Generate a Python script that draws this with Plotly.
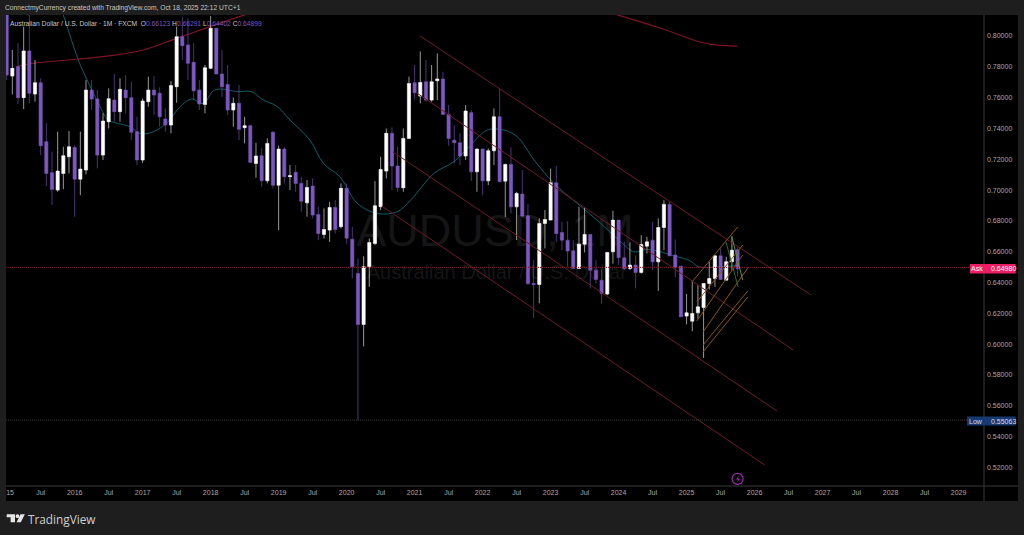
import plotly.graph_objects as go

# Monthly candles, Jan 2015 .. Oct 2025 (index 0 = Jan 2015)
open_p = [.8170,.7740,.7801,.7600,.7903,.7623,.7697,.7314,.7113,.7000,.7108,.7216,
 .7277,.7071,.7130,.7649,.7591,.7227,.7444,.7584,.7509,.7649,.7600,.7379,
 .7195,.7574,.7649,.7628,.7461,.7422,.7671,.7996,.7942,.7829,.7649,.7556,
 .7790,.8050,.7753,.7686,.7520,.7563,.7405,.7418,.7173,.7223,.7061,.7375,
 .7032,.7266,.7087,.7115,.7043,.6917,.7026,.6842,.6712,.6740,.6887,.6762,
 .7011,.6680,.6459,.6127,.6502,.6653,.6892,.7123,.7368,.7156,.7015,.7335,
 .7697,.7610,.7703,.7584,.7710,.7721,.7491,.7324,.7307,.7221,.7502,.7119,
 .7266,.7060,.7255,.7476,.7058,.7166,.6891,.6974,.6833,.6393,.6387,.6783,
 .6805,.7047,.6725,.6675,.6606,.6491,.6649,.6712,.6480,.6415,.6325,.6599,
 .6805,.6560,.6491,.6513,.6465,.6636,.6675,.6534,.6757,.6907,.6578,.6506,
 .6182,.6149,.6203,.6238,.6394,.6426,.6573,.6415,.6535,.66123]
high_p = [.8230,.7909,.7953,.8061,.8147,.7844,.7725,.7433,.7249,.7379,.7281,.7383,
 .7292,.7379,.7714,.7714,.7649,.7498,.7660,.7753,.7725,.7747,.7703,.7476,
 .7595,.7736,.7740,.7667,.7530,.7708,.8061,.8126,.8115,.7953,.7714,.7812,
 .8130,.8050,.7909,.7812,.7600,.7682,.7476,.7422,.7307,.7271,.7336,.7383,
 .7288,.7281,.7162,.7162,.7087,.7065,.7076,.6892,.6881,.6924,.6935,.7043,
 .7043,.6762,.6556,.6570,.6686,.7058,.7216,.7400,.7407,.7281,.7400,.7736,
 .7812,.7900,.7844,.7812,.7887,.7768,.7552,.7422,.7368,.7552,.7519,.7270,
 .7270,.7270,.7530,.7660,.7173,.7277,.6989,.7130,.6909,.6545,.6816,.6870,
 .7140,.7156,.6794,.6798,.6675,.6891,.6891,.6714,.6545,.6491,.6599,.6866,
 .6805,.6664,.6660,.6577,.6707,.6697,.6794,.6816,.6935,.6924,.6680,.6506,
 .6325,.6411,.6383,.6394,.6535,.6578,.6621,.6567,.6701,.66291]
low_p = [.7715,.7621,.7559,.7526,.7563,.7574,.7227,.7026,.6903,.6989,.7006,.7108,
 .6827,.6967,.7102,.7520,.7141,.7195,.7400,.7444,.7444,.7498,.7325,.7162,
 .7177,.7541,.7487,.7411,.7379,.7368,.7567,.7844,.7714,.7584,.7520,.7498,
 .7785,.7753,.7606,.7487,.7411,.7325,.7303,.7173,.7080,.7022,.7043,.7011,
 .6740,.7043,.7000,.6989,.6859,.6827,.6816,.6675,.6686,.6664,.6718,.6751,
 .6651,.6426,.5506,.5985,.6372,.6642,.6870,.7075,.7000,.6989,.6989,.7335,
 .7589,.7563,.7573,.7573,.7584,.7487,.7288,.7173,.7162,.7195,.7060,.6989,
 .6967,.7032,.7162,.7054,.6826,.6848,.6675,.6826,.6383,.6170,.6264,.6621,
 .6805,.6664,.6610,.6502,.6491,.6491,.6595,.6361,.6393,.6264,.6318,.6523,
 .6513,.6480,.6480,.6361,.6458,.6588,.6480,.6346,.6610,.6573,.6433,.6177,
 .6128,.6084,.6166,.5911,.6355,.6372,.6420,.6415,.6480,.64402]
close_p = [.7747,.7790,.7600,.7903,.7628,.7697,.7288,.7108,.7004,.7123,.7223,.7281,
 .7071,.7136,.7649,.7591,.7227,.7448,.7593,.7509,.7654,.7600,.7375,.7195,
 .7578,.7649,.7617,.7476,.7422,.7678,.7996,.7937,.7823,.7645,.7559,.7794,
 .8050,.7753,.7671,.7520,.7563,.7394,.7418,.7180,.7221,.7061,.7303,.7032,
 .7266,.7087,.7093,.7043,.6928,.7017,.6838,.6718,.6744,.6887,.6744,.7011,
 .6688,.6502,.6127,.6502,.6660,.6898,.7134,.7368,.7156,.7017,.7335,.7692,
 .7632,.7699,.7584,.7703,.7721,.7491,.7335,.7307,.7221,.7513,.7119,.7266,
 .7060,.7255,.7476,.7054,.7166,.6891,.6978,.6831,.6393,.6387,.6783,.6809,
 .7047,.6718,.6675,.6604,.6491,.6649,.6712,.6480,.6420,.6329,.6595,.6805,
 .6562,.6491,.6513,.6465,.6647,.6664,.6534,.6757,.6907,.6573,.6498,.6177,
 .6203,.6199,.6242,.6394,.6426,.6573,.6420,.6535,.6610,.64899]
months = list(range(len(close_p)))

# Moving averages
teal_x = [8,10,12.65,14.2,15.9,17.9,19.1,21.8,23.5,25,27,28.5,30.6,32.6,34.7,36.5,37.9,40.6,43.2,45.3,47.6,50,53.5,55.9,58.8,
 61.9,65.4,68.9,71.3,75.4,78.9,81.6,84.8,87.8,90.1,93.1,96.6,100.7,104.2,108.4,110.7,113.1,118.4,120.6,122.1,125.6,129]
teal_y = [.835,.8137,.7844,.7714,.7584,.7455,.7437,.7411,.7368,.7368,.7400,.7444,.7541,.7591,.7563,.7645,.7656,.7639,.7639,.7584,.7546,.7455,.7325,.7173,.7087,
 .6913,.6848,.6859,.6935,.7108,.7184,.7281,.7389,.7389,.7346,.7195,.7043,.6913,.6805,.6664,.6599,.6614,.6567,.6541,.6502,.6502,.6510]
red_x = [1.8,4.7,12.35,19.4,24.1,30,35.9,42.6,55,70,85,97,107.9,115.3,122.4,125,128.9]
red_y = [.7801,.7823,.7849,.7877,.7909,.7985,.8061,.8143,.825,.832,.832,.825,.8136,.8052,.7961,.7942,.7935]

# Drawn channels and lines: [month0, price0, month1, price1]
channels = [[72.95,.8000,141.95,.6319],[72.4,.7630,138.8,.5962],[68.2,.7247,135.95,.5566],[66.2,.6896,133.8,.5215]]
orange_lines = [[121.1,.6410,129.0,.6760],[121.8,.6273,129.9,.6643],[121.8,.6150,129.9,.6578],
                [122.9,.6078,130.9,.6500],[122.9,.5994,130.8,.6345],[122.9,.5949,130.8,.6306]]
green_lines = [[126.95,.6663,129.1,.6371],[128.0,.6695,129.9,.6416]]
ask_price = 0.64980
low_price = 0.55063

y_ticks = [.52,.54,.56,.58,.60,.62,.64,.66,.68,.70,.72,.74,.76,.78,.80]
y_labels = ["%.5f" % v for v in y_ticks]
x_ticks = [0.6] + [m for y in range(15) for m in (6 + 12*y, 12 + 12*y)][:-1]
x_labels = ["15"] + [s for y in range(15) for s in ("Jul", str(2016 + y))][:-1]

W, H = 1024, 535
L, R, T, B = 6, 984, 15, 486
xr = [-0.118, 172.49]
yr = [0.5079, 0.81364]
px = lambda v: (v - L) / (R - L)
py = lambda v: (B - v) / (B - T)

BG = "#1e1e1e"; PURPLE = "#7e57c2"; CH = "#701a28"; ORANGE = "#8a5510"; GRID = "#3a3a3a"; TICK = "#a8a8a8"

fig = go.Figure()
# --- under the candles
fig.add_trace(go.Scatter(x=[86.2], y=[0.6708], mode="text", text=["AUDUSD, 1M"], hoverinfo="skip",
    textfont=dict(family="Liberation Sans", size=45, color="#151515"), xaxis="x", yaxis="y"))
fig.add_trace(go.Scatter(x=[86.5], y=[0.6455], mode="text", text=["Australian Dollar / U.S. Dollar"], hoverinfo="skip",
    textfont=dict(family="Liberation Sans", size=20, color="#151515"), xaxis="x", yaxis="y"))
fig.add_trace(go.Scatter(x=teal_x, y=teal_y, mode="lines", line=dict(color="#0a5f68", width=1, shape="spline"), xaxis="x", yaxis="y"))
fig.add_trace(go.Scatter(x=red_x, y=red_y, mode="lines", line=dict(color="#7d1426", width=1.2, shape="spline"), xaxis="x", yaxis="y"))
# --- candles
fig.add_trace(go.Candlestick(x=months, open=open_p, high=high_p, low=low_p, close=close_p,
    increasing=dict(line=dict(color="#ffffff", width=0.6), fillcolor="#ffffff"),
    decreasing=dict(line=dict(color=PURPLE, width=0.6), fillcolor=PURPLE),
    whiskerwidth=0, xaxis="x2", yaxis="y2"))
# --- drawings on top
for c in channels:
    fig.add_trace(go.Scatter(x=[c[0],c[2]], y=[c[1],c[3]], mode="lines", line=dict(color=CH, width=1), xaxis="x3", yaxis="y3"))
for c in orange_lines:
    fig.add_trace(go.Scatter(x=[c[0],c[2]], y=[c[1],c[3]], mode="lines", line=dict(color=ORANGE, width=1), xaxis="x3", yaxis="y3"))
for c, col in zip(green_lines, ["#2f6b2f", "#4f8f3f"]):
    fig.add_trace(go.Scatter(x=[c[0],c[2]], y=[c[1],c[3]], mode="lines", line=dict(color=col, width=1), xaxis="x3", yaxis="y3"))
fig.add_trace(go.Scatter(x=xr, y=[ask_price]*2, mode="lines", line=dict(color="#7a1c2c", width=1, dash="1px,1px"), xaxis="x3", yaxis="y3"))
fig.add_trace(go.Scatter(x=xr, y=[low_price]*2, mode="lines", line=dict(color="#3c3c3c", width=1, dash="1px,1px"), xaxis="x3", yaxis="y3"))
fig.add_trace(go.Scatter(x=[129], y=[0.5125], mode="markers", marker=dict(symbol="circle-open", size=11, color="#9c27b0", line=dict(width=1.2, color="#9c27b0")), xaxis="x3", yaxis="y3"))

shapes = [
    dict(type="rect", xref="paper", yref="paper", x0=px(984), x1=px(1018), y0=py(501), y1=py(15), fillcolor="#000", line_width=0, layer="below"),
    dict(type="rect", xref="paper", yref="paper", x0=px(6), x1=px(1018), y0=py(501), y1=py(486), fillcolor="#000", line_width=0, layer="below"),
    dict(type="line", xref="paper", yref="paper", x0=px(984), x1=px(984), y0=py(501), y1=py(15), line=dict(color=GRID, width=1)),
    dict(type="line", xref="paper", yref="paper", x0=px(6), x1=px(1018), y0=py(486), y1=py(486), line=dict(color=GRID, width=1)),
    dict(type="rect", xref="paper", yref="paper", x0=px(970), x1=px(1015.7), y0=py(273.5), y1=py(264), fillcolor="#e91e63", line_width=0),
    dict(type="rect", xref="paper", yref="paper", x0=px(967), x1=px(1015.7), y0=py(425.5), y1=py(416.5), fillcolor="#173a73", line_width=0),
]
# TradingView logo and the small bolt
def path(points):
    return "M " + " L ".join(f"{px(a)},{py(b)}" for a, b in points) + " Z"
for pts in ([(6.7,514.3),(15,514.3),(15,522.3),(10.6,522.3),(10.6,517.3),(6.7,517.3)],
            [(20.5,514.3),(24.8,514.3),(20.8,522.3),(16.6,522.3)]):
    shapes.append(dict(type="path", xref="paper", yref="paper", path=path(pts), fillcolor="#e6e6e6", line_width=0))
shapes.append(dict(type="circle", xref="paper", yref="paper", x0=px(15.6), x1=px(19.4), y0=py(518.1), y1=py(514.3), fillcolor="#e6e6e6", line_width=0))
shapes.append(dict(type="path", xref="paper", yref="paper", path=path([(738.8,475.5),(736,479.5),(738,479.5),(737.2,482.5),(740,478.5),(738,478.5)]), fillcolor="#9c27b0", line_width=0))

def note(x, y, text, size, color, family="Liberation Sans", anchor="left"):
    return dict(xref="paper", yref="paper", x=px(x), y=py(y), text=text, showarrow=False, xanchor=anchor, yanchor="middle",
                font=dict(family=family, size=size, color=color), borderpad=0, borderwidth=0)

vals = lambda s: f"<span style='color:{PURPLE}'>{s}</span>"
annotations = [
    note(5, 8, "ConnectmyCurrency created with TradingView.com, Oct 18, 2025 22:12 UTC+1", 6.7, "#c8c8c8"),
    note(10, 23.5, "Australian Dollar / U.S. Dollar · 1M · FXCM  O" + vals("0.66123") + " H" + vals("0.66291") + " L" + vals("0.64402") + " C" + vals("0.64899"), 6.7, "#c8c8c8"),
    note(976.5, 268.7, "Ask", 7, "#ffffff", anchor="center"),
    note(1003, 268.7, "0.64980", 7, "#ffffff", anchor="center"),
    note(975.5, 421, "Low", 7, "#d5dcea", anchor="center"),
    note(1003, 421, "0.55063", 7, "#d5dcea", anchor="center"),
    note(28, 518.5, "TradingView", 11.8, "#cfcfcf", family="Open Sans"),
]

hidden = dict(visible=False, range=xr, fixedrange=True)
fig.update_layout(
    width=W, height=H, autosize=False, showlegend=False, hovermode=False,
    paper_bgcolor=BG, plot_bgcolor="#000000", boxgap=0.2,
    margin=dict(l=L, r=W - R, t=T, b=H - B, pad=0),
    shapes=shapes, annotations=annotations,
    xaxis=dict(range=xr, tickmode="array", tickvals=x_ticks, ticktext=x_labels, showgrid=False, zeroline=False,
               tickfont=dict(family="Liberation Sans", size=7, color=TICK), ticks="", ticklabelstandoff=1, fixedrange=True, showline=False),
    yaxis=dict(range=yr, side="right", tickmode="array", tickvals=y_ticks, ticktext=y_labels, showgrid=False, zeroline=False,
               tickfont=dict(family="Liberation Sans", size=7, color=TICK), ticks="", ticklabelstandoff=2, fixedrange=True, showline=False),
    xaxis2=dict(hidden, overlaying="x", rangeslider=dict(visible=False)),
    yaxis2=dict(visible=False, range=yr, overlaying="y", fixedrange=True),
    xaxis3=dict(hidden, overlaying="x"),
    yaxis3=dict(visible=False, range=yr, overlaying="y", fixedrange=True),
)
fig.write_html("out.html", config=dict(displayModeBar=False),
               post_script="document.body.style.margin='0';document.body.style.overflow='hidden';")
